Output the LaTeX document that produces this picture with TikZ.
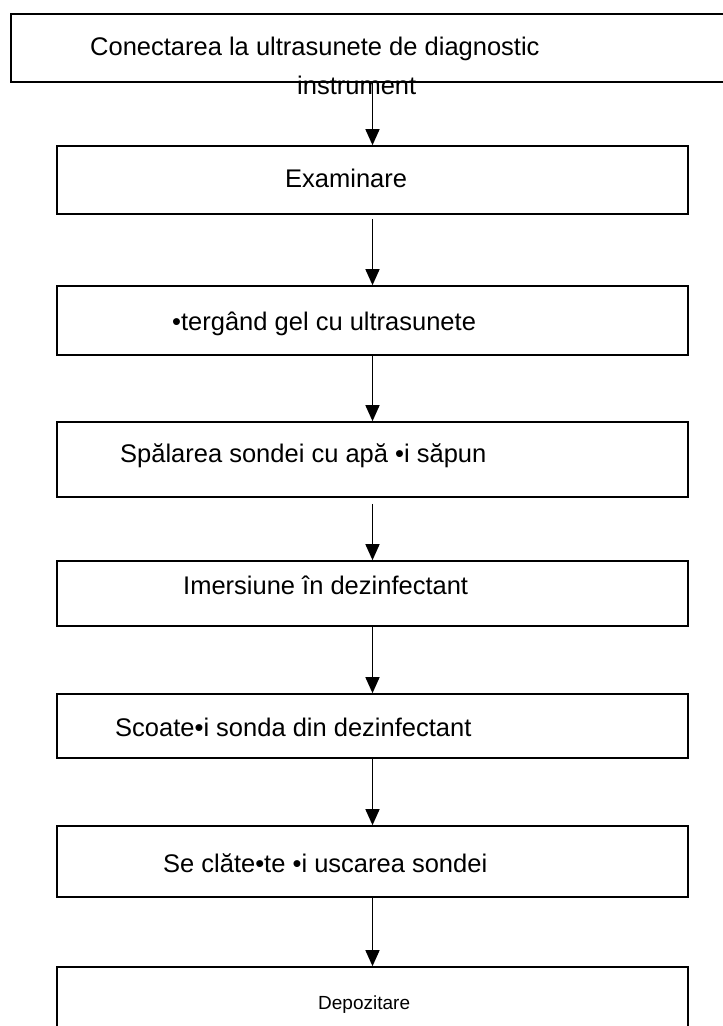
\documentclass[tikz,border=0pt]{standalone}
\usepackage{fontspec}
\setmainfont{Liberation Sans}
\usetikzlibrary{arrows.meta}
\begin{document}
\begin{tikzpicture}[x=1pt,y=-1pt,
  box/.style={draw,line width=1.6pt,rectangle,inner sep=0pt,minimum width=631pt},
  lbl/.style={anchor=base west,inner sep=0pt,font=\fontsize{25.5}{30}\selectfont},
  arr/.style={line width=1.3pt,-{Triangle[length=16pt,width=14pt]}}]
\useasboundingbox (0,0) rectangle (723,1026);
\clip (0,0) rectangle (723,1026);
\fill[white] (0,0) rectangle (723,1026);
\node[box,line width=2.4pt,minimum width=749pt,minimum height=68pt] (b1) at (385.5,48) {};
\node[box,minimum height=68pt] (b2) at (372.5,180) {};
\node[box,minimum height=69pt] (b3) at (372.5,320.5) {};
\node[box,minimum height=75pt] (b4) at (372.5,459.5) {};
\node[box,minimum height=65pt] (b5) at (372.5,593.5) {};
\node[box,minimum height=64pt] (b6) at (372.5,726) {};
\node[box,minimum height=71pt] (b7) at (372.5,861.5) {};
\node[box,minimum height=73pt] (b8) at (372.5,1003.5) {};
\node[lbl] (t1a) at (90,55) {Conectarea la ultrasunete de diagnostic};
\node[lbl] (t1b) at (297,94) {instrument};
\node[lbl] (t2) at (285,187) {Examinare};
\node[lbl] (t3) at (172,330) {•tergând gel cu ultrasunete};
\node[lbl] (t4) at (120,462) {Spălarea sondei cu apă •i săpun};
\node[lbl] (t5) at (183,594) {Imersiune în dezinfectant};
\node[lbl] (t6) at (115,736) {Scoate•i sonda din dezinfectant};
\node[lbl] (t7) at (163,872) {Se clăte•te •i uscarea sondei};
\node[lbl,font=\fontsize{19}{23}\selectfont] (t8) at (318,1009) {Depozitare};
\draw[arr] (b2.north |- b1.south) -- (b2.north);
\draw[arr] ([yshift=-4pt]b2.south) -- (b3.north);
\draw[arr] (b3.south) -- (b4.north);
\draw[arr] ([yshift=-6pt]b4.south) -- (b5.north);
\draw[arr] (b5.south) -- (b6.north);
\draw[arr] (b6.south) -- (b7.north);
\draw[arr] (b7.south) -- (b8.north);
\end{tikzpicture}
\end{document}
